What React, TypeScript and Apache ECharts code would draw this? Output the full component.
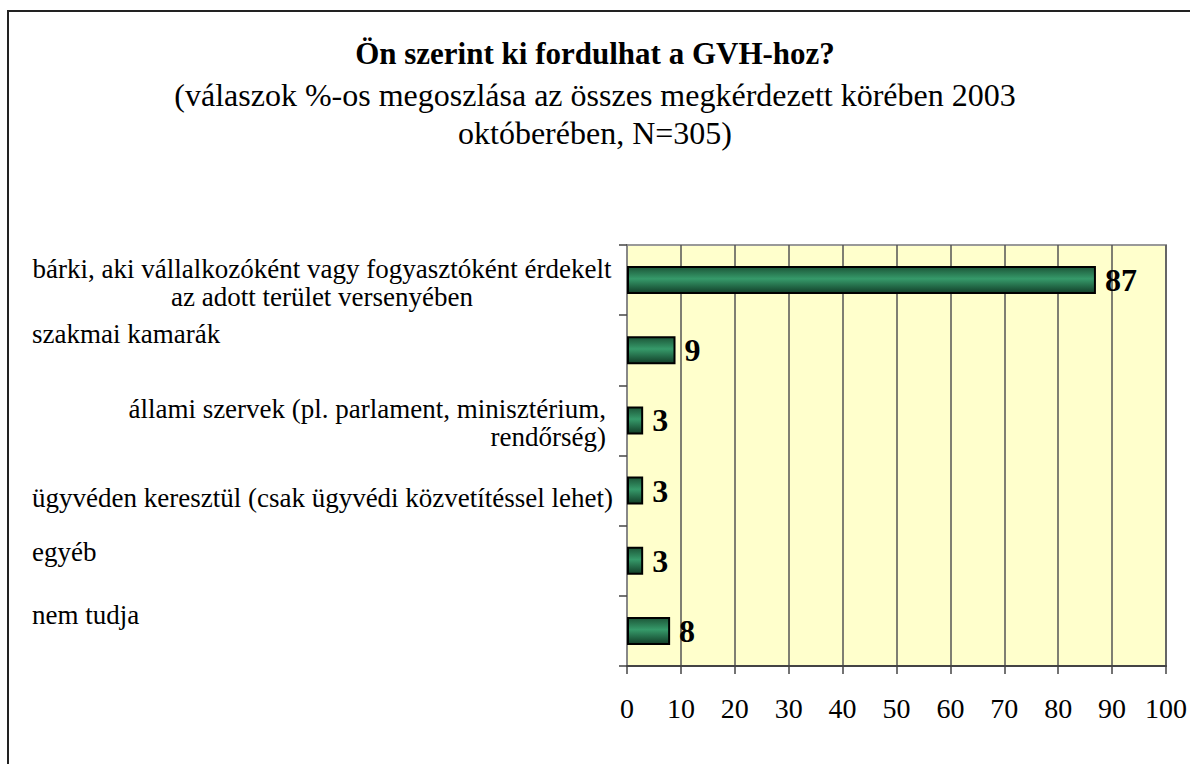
import React, { useEffect, useRef } from "react";
import * as echarts from "echarts";

const titleText = "Ön szerint ki fordulhat a GVH-hoz?";
const subtitleText = "(válaszok %-os megoszlása az összes megkérdezett körében 2003\noktóberében, N=305)";

const categories = [
  "bárki, aki vállalkozóként vagy fogyasztóként érdekelt\naz adott terület versenyében",
  "szakmai kamarák",
  "állami szervek (pl. parlament, minisztérium,\nrendőrség)",
  "ügyvéden keresztül (csak ügyvédi közvetítéssel lehet)",
  "egyéb",
  "nem tudja",
];
const values = [87, 9, 3, 3, 3, 8];
const xTicks = [0, 10, 20, 30, 40, 50, 60, 70, 80, 90, 100];

// presentation per category label (alignment & vertical nudge)
const labelAlign = ["c", "l", "r", "l", "l", "l"];
const labelPadding = [
  [6, 0, 0, 0],
  [0, 0, 32, 0],
  [6, 6, 0, 0],
  [14, 0, 0, 0],
  [0, 0, 18, 0],
  [0, 0, 32, 0],
];

const FONT = "Liberation Serif";

export default function App() {
  const ref = useRef<HTMLDivElement>(null);
  useEffect(() => {
    if (!ref.current) return;
    const chart = echarts.init(ref.current, null, { renderer: "svg" });
    const tokenBase = { width: 580, fontSize: 27, lineHeight: 28, fontFamily: FONT, color: "#000" };
    chart.setOption({
      animation: false,
      backgroundColor: "#fff",
      title: [
        {
          text: titleText,
          left: "center",
          top: 33,
          textStyle: { fontFamily: FONT, fontSize: 31, fontWeight: "bold", color: "#000" },
        },
        {
          text: subtitleText,
          left: "center",
          top: 71,
          textStyle: { fontFamily: FONT, fontSize: 32, fontWeight: "normal", color: "#000", lineHeight: 38 },
        },
      ],
      graphic: [
        {
          type: "rect",
          shape: { x: 8, y: 11, width: 1400, height: 1000 },
          style: { fill: "none", stroke: "#222", lineWidth: 2 },
          silent: true,
        },
      ],
      grid: {
        left: 627,
        top: 245,
        right: 21,
        bottom: 98,
        show: true,
        backgroundColor: "#ffffcc",
        borderColor: "#999",
        borderWidth: 2,
      },
      xAxis: {
        type: "value",
        min: 0,
        max: 100,
        interval: 10,
        axisLine: { show: true, lineStyle: { color: "#444", width: 2 } },
        axisTick: { show: true, length: 8, lineStyle: { color: "#444", width: 1.5 } },
        splitLine: { show: true, lineStyle: { color: "#555", width: 1.5 } },
        axisLabel: {
          margin: 28,
          fontFamily: FONT,
          fontSize: 28,
          color: "#000",
          formatter: (v: number) => (xTicks.includes(v) ? String(v) : ""),
        },
      },
      yAxis: {
        type: "category",
        inverse: true,
        data: categories.map((c, i) => ({ value: c, textStyle: { padding: labelPadding[i] } })),
        axisLine: { show: true, lineStyle: { color: "#888", width: 2 } },
        axisTick: { show: true, length: 8, lineStyle: { color: "#444", width: 1.5 } },
        axisLabel: {
          margin: 15,
          fontFamily: FONT,
          fontSize: 27,
          color: "#000",
          formatter: (v: string, i: number) => `{${labelAlign[i]}|${v}}`,
          rich: {
            l: { ...tokenBase, align: "left" },
            c: { ...tokenBase, align: "center" },
            r: { ...tokenBase, align: "right" },
          },
        },
      },
      series: [
        {
          type: "bar",
          data: values,
          barWidth: "40%",
          itemStyle: {
            color: new echarts.graphic.LinearGradient(0, 0, 0, 1, [
              { offset: 0, color: "#1c5638" },
              { offset: 0.45, color: "#369a6a" },
              { offset: 1, color: "#123e28" },
            ]),
            borderColor: "#000",
            borderWidth: 2,
          },
          label: {
            show: true,
            position: "right",
            distance: 9,
            fontFamily: FONT,
            fontSize: 32,
            fontWeight: "bold",
            color: "#000",
          },
        },
      ],
    });
    return () => chart.dispose();
  }, []);
  return <div ref={ref} style={{ position: "absolute", left: 0, top: 0, width: 1190, height: 764 }} />;
}
